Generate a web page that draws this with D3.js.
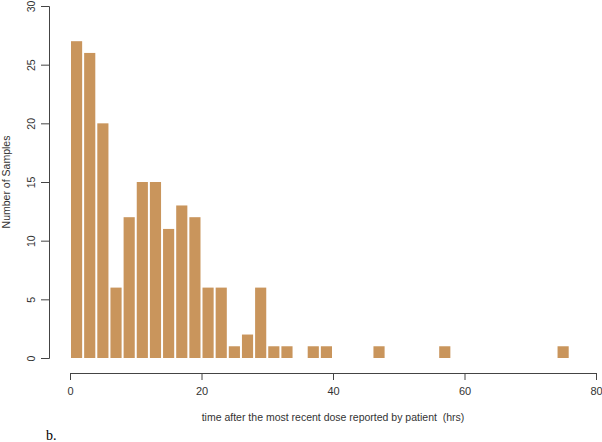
<!DOCTYPE html>
<html>
<head>
<meta charset="utf-8">
<script src="https://cdn.jsdelivr.net/npm/d3@7"></script>
<style>
  body { margin: 0; background: #fff; }
  text { font-family: "Liberation Sans", Arial, sans-serif; fill: #333; }
</style>
</head>
<body>
<svg id="chart" width="602" height="442"></svg>
<script>
// histogram bins, 2 hours wide, lower edge in hours
var binStarts = [0, 2, 4, 6, 8, 10, 12, 14, 16, 18, 20, 22, 24, 26, 28, 30, 32, 34, 36, 38,
  40, 42, 44, 46, 48, 50, 52, 54, 56, 58, 60, 62, 64, 66, 68, 70, 72, 74];
var counts = [27, 26, 20, 6, 12, 15, 15, 11, 13, 12, 6, 6, 1, 2, 6, 1, 1, 0, 1, 1,
  0, 0, 0, 1, 0, 0, 0, 0, 1, 0, 0, 0, 0, 0, 0, 0, 0, 1];
var binWidth = 2;
var xTicks = [0, 20, 40, 60, 80];
var yTicks = [0, 5, 10, 15, 20, 25, 30];

var svg = d3.select("#chart");

var x = d3.scaleLinear().domain([0, 80]).range([70, 596]);
var y = d3.scaleLinear().domain([0, 30]).range([358, 6]);

var bins = binStarts.map(function(b, i) {
  return { x0: b, x1: b + binWidth, n: counts[i] };
});

svg.append("g")
  .selectAll("rect")
  .data(bins.filter(function(d) { return d.n > 0; }))
  .enter()
  .append("rect")
  .attr("x", function(d) { return x(d.x0) + 1; })
  .attr("width", function(d) { return x(d.x1) - x(d.x0) - 2; })
  .attr("y", function(d) { return y(d.n); })
  .attr("height", function(d) { return y(0) - y(d.n); })
  .attr("fill", "#c9955c");

// y axis, R style with rotated labels
var yAxis = svg.append("g")
  .attr("transform", "translate(49,0)")
  .call(d3.axisLeft(y).tickValues(yTicks).tickSizeOuter(0).tickSize(8));

yAxis.selectAll("text")
  .attr("transform", "rotate(-90)")
  .attr("x", 0)
  .attr("y", -14)
  .attr("dy", 0)
  .attr("text-anchor", "middle")
  .style("font-size", "10.5px");

// x axis
var xAxis = svg.append("g")
  .attr("transform", "translate(0,373)")
  .call(d3.axisBottom(x).tickValues(xTicks).tickSizeOuter(0).tickSize(7));

xAxis.selectAll("text")
  .attr("y", 14)
  .attr("dy", "0.71em")
  .style("font-size", "11px");

svg.selectAll(".domain, .tick line").attr("stroke", "#444");
svg.selectAll(".tick text").attr("fill", "#333").attr("font-family", "Liberation Sans, Arial, sans-serif");

svg.append("text")
  .attr("transform", "translate(10,182) rotate(-90)")
  .attr("text-anchor", "middle")
  .style("font-size", "10.5px")
  .text("Number of Samples");

svg.append("text")
  .attr("x", 333)
  .attr("y", 421)
  .attr("text-anchor", "middle")
  .style("font-size", "10.5px")
  .style("white-space", "pre")
  .text("time after the most recent dose reported by patient  (hrs)");

svg.append("text")
  .attr("x", 46)
  .attr("y", 440)
  .style("font-family", "Liberation Serif, Times New Roman, serif")
  .style("font-size", "14px")
  .style("fill", "#000")
  .text("b.");
</script>
</body>
</html>
